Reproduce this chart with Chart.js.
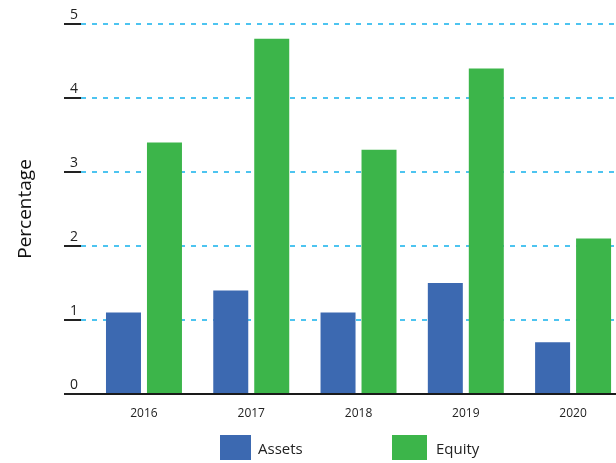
<!DOCTYPE html>
<html>
<head>
<meta charset="utf-8">
<script src="https://cdn.jsdelivr.net/npm/chart.js@4/dist/chart.umd.min.js"></script>
<style>
  html, body { margin: 0; padding: 0; background: #fff; overflow: hidden; }
  #wrap { position: relative; width: 616px; height: 463px; font-family: "Open Sans", sans-serif; }
  canvas { position: absolute; left: 0; top: 0; }
  .lg-box { position: absolute; }
  .lg-text { position: absolute; font-size: 15px; color: #222; line-height: 1; }
</style>
</head>
<body>
<div id="wrap">
  <canvas id="c" width="616" height="463"></canvas>
  <div class="lg-box" id="lb0" style="left:220px;top:435px;width:31px;height:25px;"></div>
  <div class="lg-text" id="lt0" style="left:258px;top:441px;"></div>
  <div class="lg-box" id="lb1" style="left:392px;top:435px;width:35px;height:25px;"></div>
  <div class="lg-text" id="lt1" style="left:436px;top:441px;"></div>
</div>
<script>
const years = ["2016", "2017", "2018", "2019", "2020"];
const assets = [1.1, 1.4, 1.1, 1.5, 0.7];
const equity = [3.4, 4.8, 3.3, 4.4, 2.1];
const seriesNames = ["Assets", "Equity"];
const yTicks = [0, 1, 2, 3, 4, 5];
const colors = ["#3C69B1", "#3CB54A"];

document.getElementById('lb0').style.background = colors[0];
document.getElementById('lb1').style.background = colors[1];
document.getElementById('lt0').textContent = seriesNames[0];
document.getElementById('lt1').textContent = seriesNames[1];

const font = "'Open Sans', sans-serif";

new Chart(document.getElementById('c'), {
  type: 'bar',
  data: {
    datasets: [
      { label: seriesNames[0], data: assets.map((v, i) => ({ x: i, y: v })), backgroundColor: colors[0] },
      { label: seriesNames[1], data: equity.map((v, i) => ({ x: i, y: v })), backgroundColor: colors[1] }
    ]
  },
  options: {
    responsive: false,
    animation: false,
    barPercentage: 0.854,
    categoryPercentage: 0.764,
    layout: { padding: { top: 24, right: 0, bottom: 0, left: 0 } },
    plugins: { legend: { display: false }, tooltip: { enabled: false } },
    scales: {
      x: {
        type: 'linear',
        offset: false,
        min: -0.587,
        max: 4.40,
        afterBuildTicks: (s) => { s.ticks = years.map((_, i) => ({ value: i })); },
        afterFit: (s) => { s.height = 69; },
        grid: { display: false, drawTicks: false, offset: false },
        border: { display: true, color: '#1a1a1a', width: 2 },
        ticks: {
          callback: (v) => years[v] !== undefined ? years[v] : '',
          color: '#222',
          font: { family: font, size: 12 },
          padding: 12,
          maxRotation: 0,
          autoSkip: false
        }
      },
      y: {
        min: 0,
        max: 5,
        afterBuildTicks: (s) => { s.ticks = yTicks.map(v => ({ value: v })); },
        afterFit: (s) => { s.width = 81; },
        border: { display: false, dash: [5, 6] },
        grid: {
          color: (ctx) => ctx.tick && ctx.tick.value === 0 ? 'rgba(0,0,0,0)' : '#4DC4F0',
          lineWidth: 2,
          tickColor: '#222',
          tickLength: 17,
          tickWidth: 2,
          tickBorderDash: [],
          drawTicks: true
        },
        ticks: {
          color: '#222',
          font: { family: font, size: 14 },
          padding: -14,
          labelOffset: -9
        },
        title: {
          display: true,
          text: 'Percentage',
          color: '#111',
          font: { family: font, size: 19 },
          padding: { top: 14, bottom: 0 }
        }
      }
    }
  }
});
</script>
</body>
</html>
